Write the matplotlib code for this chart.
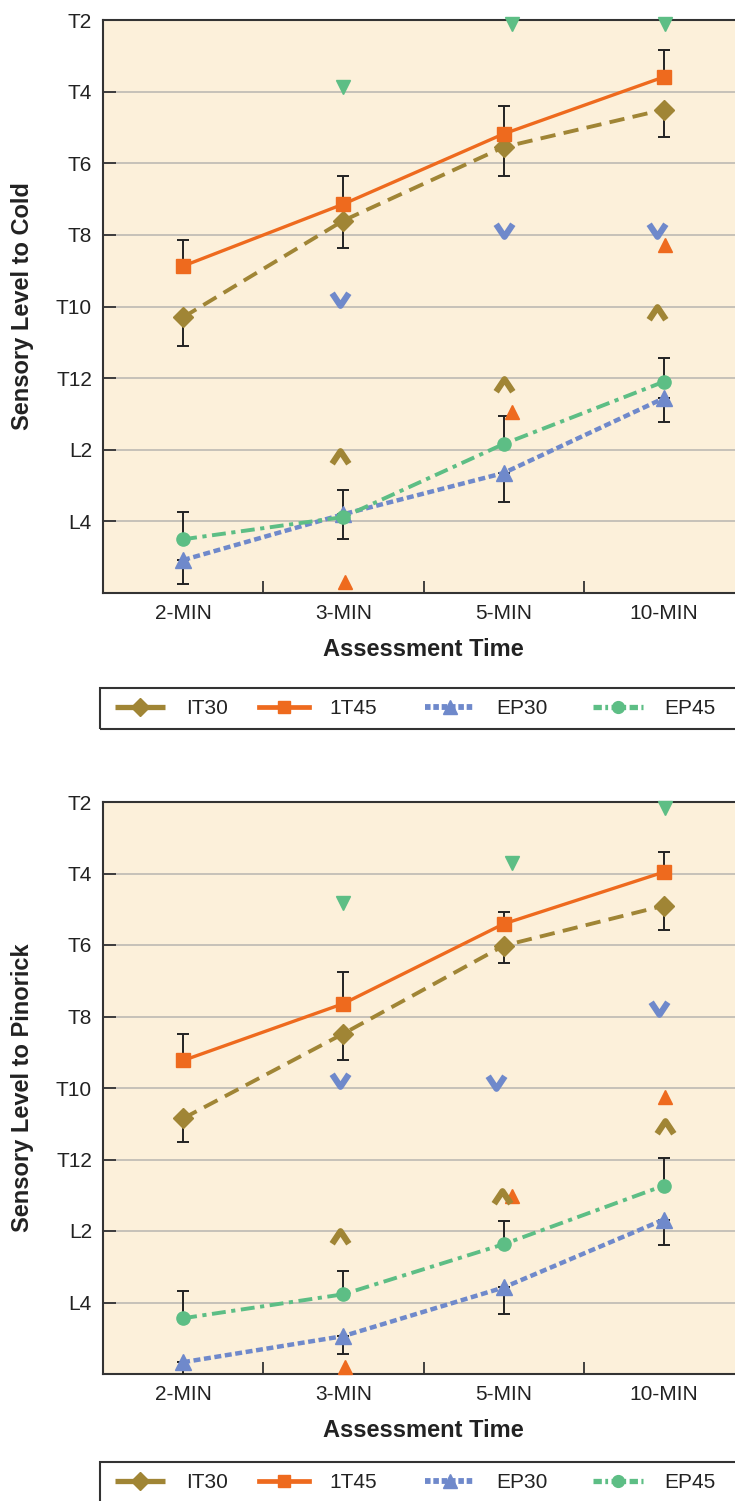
import numpy as np
import matplotlib
matplotlib.use("Agg")
import matplotlib.pyplot as plt
from matplotlib.path import Path
from matplotlib.lines import Line2D
from matplotlib.patches import Rectangle

plt.rcParams['font.family'] = ['Liberation Sans', 'DejaVu Sans']
plt.rcParams['lines.scale_dashes'] = False

# categories and axis labels
times = ['2-MIN', '3-MIN', '5-MIN', '10-MIN']
level_labels = ['T2', 'T4', 'T6', 'T8', 'T10', 'T12', 'L2', 'L4']
level_pos = [0, 2, 4, 6, 8, 10, 12, 14]   # dermatome steps below T2
series_names = ['IT30', '1T45', 'EP30', 'EP45']

# cold panel (mean level, one sided SE)
cold_it30 = [8.3, 5.6, 3.55, 2.5]
cold_it30_err = [0.8, 0.78, 0.8, 0.78]
cold_1t45 = [6.87, 5.14, 3.18, 1.59]
cold_1t45_err = [0.73, 0.78, 0.78, 0.75]
cold_ep30 = [15.08, 13.8, 12.65, 10.56]
cold_ep30_err = [0.67, 0.7, 0.81, 0.67]
cold_ep45 = [14.5, 13.88, 11.84, 10.1]
cold_ep45_err = [0.75, 0.75, 0.78, 0.67]
# significance symbols at 3, 5, 10 min
cold_sig_green = [1.87, 0.1, 0.1]
cold_sig_blue = [7.8, 5.87, 5.87]
cold_sig_orange = [15.7, 10.95, 6.28]
cold_sig_olive = [12.2, 10.2, 8.18]

# pinprick panel
pin_it30 = [8.85, 6.48, 4.02, 2.9]
pin_it30_err = [0.67, 0.75, 0.47, 0.67]
pin_1t45 = [7.23, 5.64, 3.41, 1.96]
pin_1t45_err = [0.75, 0.89, 0.34, 0.56]
pin_ep30 = [15.67, 14.94, 13.58, 11.68]
pin_ep30_err = [0.5, 0.5, 0.75, 0.7]
pin_ep45 = [14.44, 13.77, 12.37, 10.73]
pin_ep45_err = [0.75, 0.64, 0.64, 0.78]
pin_sig_green = [2.82, 1.7, 0.17]
pin_sig_blue = [7.77, 7.82, 5.75]
pin_sig_orange = [15.8, 11.03, 8.24]
pin_sig_olive = [12.18, 11.06, 9.1]

# small horizontal nudges of the symbols so they don't sit on each other
cold_nudge = {'green': [0, 0.05, 0.005], 'blue': [-0.02, 0, -0.04],
              'orange': [0.01, 0.05, 0.005], 'olive': [-0.02, 0, -0.04]}
pin_nudge = {'green': [0, 0.05, 0.005], 'blue': [-0.02, -0.045, -0.03],
             'orange': [0.01, 0.05, 0.005], 'olive': [-0.02, -0.01, 0.005]}

c_olive = '#A08535'
c_orange = '#EE6A1E'
c_blue = '#6F89CB'
c_green = '#5DBE85'
bg = '#FCF0DA'
dark = '#222222'

chev_down = Path([(-1, 0.75), (0, -0.75), (1, 0.75)], [Path.MOVETO, Path.LINETO, Path.LINETO])
chev_up = Path([(-1, -0.75), (0, 0.75), (1, -0.75)], [Path.MOVETO, Path.LINETO, Path.LINETO])

styles = [
    dict(color=c_olive, marker='D', ms=10, lw=2.8, dashes=(11, 6)),
    dict(color=c_orange, marker='s', ms=10, lw=2.4, dashes=None),
    dict(color=c_blue, marker='^', ms=11, lw=3.2, dashes=(5, 2.6)),
    dict(color=c_green, marker='o', ms=9.5, lw=2.8, dashes=(10, 4, 3, 4)),
]


def draw_panel(ax, series, errs, sig, nudge, ylabel):
    x = np.arange(len(times))
    ax.set_facecolor(bg)
    # error bars: upper series point up, lower series point down
    err_dirs = ['down', 'up', 'down', 'up']
    for vals, e, d in zip(series, errs, err_dirs):
        e = np.array(e)
        z = np.zeros_like(e)
        yerr = [z, e] if d == 'down' else [e, z]
        ax.errorbar(x, vals, yerr=yerr, fmt='none', ecolor=dark,
                    elinewidth=1.4, capsize=4.5, capthick=1.4, zorder=3)
    for vals, st in zip(series, styles):
        ln, = ax.plot(x, vals, color=st['color'], lw=st['lw'], marker=st['marker'],
                      ms=st['ms'], mec=st['color'], zorder=4)
        if st['dashes']:
            ln.set_dashes(st['dashes'])
    xs = x[1:]
    ax.plot(xs + np.array(nudge['green']), sig['green'], ls='none', marker='v',
            ms=10, color=c_green, zorder=5, clip_on=False)
    ax.plot(xs + np.array(nudge['orange']), sig['orange'], ls='none', marker='^',
            ms=10, color=c_orange, zorder=5, clip_on=False)
    ax.plot(xs + np.array(nudge['blue']), sig['blue'], ls='none', marker=chev_down,
            ms=12, mfc='none', mec=c_blue, mew=4.5, zorder=5)
    ax.plot(xs + np.array(nudge['olive']), sig['olive'], ls='none', marker=chev_up,
            ms=12, mfc='none', mec=c_olive, mew=4.5, zorder=5)

    ax.set_xlim(-0.5, len(times) - 0.5)
    ax.set_ylim(16, 0)
    ax.set_yticks(level_pos)
    ax.set_yticklabels(level_labels)
    ax.yaxis.grid(True, color='#C2BEB6', lw=1.3)
    ax.set_axisbelow(True)
    ax.set_xticks(x)
    ax.set_xticklabels(times)
    ax.set_xticks(x[:-1] + 0.5, minor=True)
    ax.tick_params(axis='x', which='major', length=0, pad=8, labelsize=15, colors=dark)
    ax.tick_params(axis='x', which='minor', direction='in', length=9, width=1.3, color='#333333')
    ax.tick_params(axis='y', direction='in', length=9, width=1.3, color='#333333',
                   pad=8, labelsize=15, labelcolor=dark)
    for s in ax.spines.values():
        s.set_color('#333333')
        s.set_linewidth(1.5)
    ax.set_xlabel('Assessment Time', fontsize=17, fontweight='bold', color=dark)
    ax.xaxis.set_label_coords(0.5, -0.078)
    ax.set_ylabel(ylabel, fontsize=17, fontweight='bold', color=dark)
    ax.yaxis.set_label_coords(-0.108, 0.5)


fig = plt.figure(figsize=(7.35, 15.01), dpi=100)
ax1 = fig.add_axes([103 / 735, 1 - 593 / 1501, 641 / 735, 573 / 1501])
ax2 = fig.add_axes([103 / 735, 1 - 1374 / 1501, 641 / 735, 572 / 1501])

draw_panel(ax1, [cold_it30, cold_1t45, cold_ep30, cold_ep45],
           [cold_it30_err, cold_1t45_err, cold_ep30_err, cold_ep45_err],
           {'green': cold_sig_green, 'blue': cold_sig_blue,
            'orange': cold_sig_orange, 'olive': cold_sig_olive},
           cold_nudge, 'Sensory Level to Cold')
draw_panel(ax2, [pin_it30, pin_1t45, pin_ep30, pin_ep45],
           [pin_it30_err, pin_1t45_err, pin_ep30_err, pin_ep45_err],
           {'green': pin_sig_green, 'blue': pin_sig_blue,
            'orange': pin_sig_orange, 'olive': pin_sig_olive},
           pin_nudge, 'Sensory Level to Pinorick')

handle_dashes = [(20, 0.01), None, (4, 2), (6, 2.5, 2, 2.5)]
handles = []
for st, hd in zip(styles, handle_dashes):
    h = Line2D([], [], color=st['color'], lw=st['lw'] + 1, marker=st['marker'],
               ms=st['ms'] - 1)
    if hd:
        h.set_dashes(hd)
    handles.append(h)

# legend entries are spread unevenly in the source, so place each one
entry_x = [115, 259, 425, 593]
for top in [688, 1462]:
    # legend box (runs off the right edge like the source)
    fig.patches.append(Rectangle((100 / 735, 1 - (top + 41) / 1501), 700 / 735, 41 / 1501,
                                 transform=fig.transFigure, fill=False,
                                 edgecolor='#333333', lw=1.5))
    for h, name, ex in zip(handles, series_names, entry_x):
        fig.legend([h], [name], loc='center left',
                   bbox_to_anchor=(ex / 735, 1 - (top + 20.5) / 1501),
                   fontsize=15, handlelength=2.4, handletextpad=1.0,
                   borderaxespad=0, borderpad=0, frameon=False, labelcolor=dark)

fig.savefig('out.png', dpi=100, facecolor='white')
